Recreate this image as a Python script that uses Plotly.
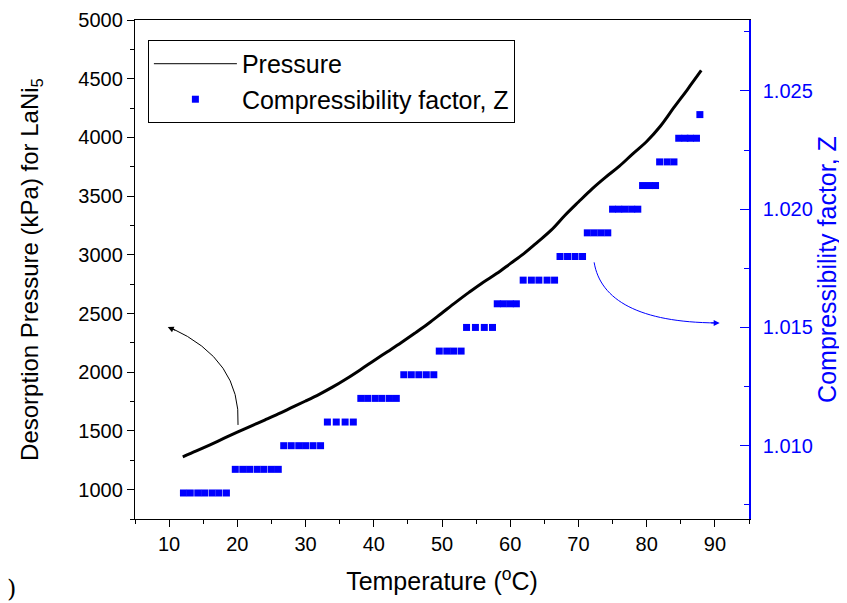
import plotly.graph_objects as go

# ---- data ----
p_temp = [12, 14, 16, 18, 20, 22, 24, 26, 28, 30, 32, 34, 36, 38, 40, 42, 44, 46, 48, 50,
          52, 54, 56, 58, 60, 62, 64, 66, 68, 70, 72, 74, 76, 78, 80, 82, 84, 86, 88]
pressure = [1280, 1330, 1382, 1436, 1490, 1542, 1593, 1645, 1700, 1755, 1812, 1875, 1945, 2020,
            2098, 2175, 2252, 2332, 2415, 2505, 2595, 2682, 2765, 2840, 2925, 3010, 3108, 3210,
            3335, 3450, 3562, 3662, 3755, 3862, 3965, 4095, 4255, 4410, 4570]

z_temp = [12.1, 13.1, 14.2, 15.2, 16.3, 17.3, 18.4,
          19.7, 20.8, 21.8, 22.9, 23.9, 25.0, 26.0,
          26.8, 27.9, 29.0, 30.0, 31.1, 32.2,
          33.2, 34.5, 35.8, 37.0,
          38.1, 39.1, 40.2, 41.2, 42.3, 43.3,
          44.4, 45.5, 46.6, 47.7, 48.8,
          49.6, 50.7, 51.7, 52.8,
          53.6, 54.9, 56.2, 57.4,
          58.1, 59.0, 60.0, 60.9,
          61.9, 63.1, 64.2, 65.4, 66.5,
          67.3, 68.4, 69.5, 70.6,
          71.3, 72.3, 73.3, 74.3,
          75.0, 75.9, 76.8, 77.8, 78.7,
          79.4, 80.4, 81.3,
          81.9, 83.0, 84.0,
          84.7, 85.6, 86.4, 87.3,
          87.8]
z_level = [1.008] * 7 + [1.009] * 7 + [1.010] * 6 + [1.011] * 4 + [1.012] * 6 + [1.013] * 5 + \
          [1.014] * 4 + [1.015] * 4 + [1.016] * 4 + [1.017] * 5 + [1.018] * 4 + [1.019] * 4 + \
          [1.020] * 5 + [1.021] * 3 + [1.022] * 3 + [1.023] * 4 + [1.024] * 1

x_ticks = [10, 20, 30, 40, 50, 60, 70, 80, 90]
y_ticks = [1000, 1500, 2000, 2500, 3000, 3500, 4000, 4500, 5000]
z_ticks = [1.010, 1.015, 1.020, 1.025]

FONT = "Liberation Sans, Arial, sans-serif"
BLUE = "#0000ff"

fig = go.Figure()
fig.add_trace(go.Scatter(x=p_temp, y=pressure, mode="lines", name="Pressure", showlegend=False,
                         line=dict(color="black", width=3, shape="spline"), yaxis="y"))
fig.add_trace(go.Scatter(x=[None], y=[None], mode="lines", name="Pressure",
                         line=dict(color="black", width=1), yaxis="y"))
fig.add_trace(go.Scatter(x=z_temp, y=z_level, mode="markers", name="Compressibility factor, Z",
                         marker=dict(color=BLUE, symbol="square", size=7, line=dict(width=0)),
                         yaxis="y2"))

# curved arrows (decorations)
fig.add_shape(type="path", xref="x", yref="y",
              path="M 20.1,1551 Q 20.6,2104 10.3,2377",
              line=dict(color="black", width=1))
fig.add_annotation(x=9.8, y=2385, xref="x", yref="y", ax=9, ay=4, text="",
                   showarrow=True, arrowhead=2, arrowsize=1.2, arrowwidth=1, arrowcolor="black")
fig.add_shape(type="path", xref="x", yref="y",
              path="M 72.3,2936 C 73.2,2612 79.0,2425 90.2,2420",
              line=dict(color=BLUE, width=1))
fig.add_annotation(x=90.7, y=2420, xref="x", yref="y", ax=-10, ay=0, text="",
                   showarrow=True, arrowhead=2, arrowsize=1.2, arrowwidth=1, arrowcolor=BLUE)

fig.add_annotation(x=-0.212, y=-0.14, xref="paper", yref="paper", text=")",
                   showarrow=False, xanchor="left", yanchor="middle",
                   font=dict(family="DejaVu Serif, serif", size=24, color="black"))

# the page body has an 8px default margin: figure is sized/margined to compensate
fig.update_layout(
    width=839, height=595,
    margin=dict(l=127, r=98, t=12, b=84, autoexpand=False),
    paper_bgcolor="white", plot_bgcolor="white",
    font=dict(family=FONT, color="black", size=20),
    showlegend=True,
    legend=dict(x=0.021, y=0.96, xanchor="left", yanchor="top",
                bordercolor="black", borderwidth=1, bgcolor="white",
                font=dict(family=FONT, size=25, color="black"),
                tracegroupgap=0, itemwidth=83),
    xaxis=dict(range=[5, 95], tickvals=x_ticks, ticks="outside", ticklen=7, tickwidth=1.3,
               tickcolor="black", showline=True, linecolor="black", linewidth=1.3, mirror=True,
               showgrid=False, zeroline=False, automargin=False,
               minor=dict(tickvals=[5, 15, 25, 35, 45, 55, 65, 75, 85, 95], ticklen=4,
                          tickwidth=1.3, tickcolor="black", ticks="outside"),
               tickfont=dict(size=20),
               title=dict(text="Temperature (<sup>o</sup>C)", font=dict(size=25), standoff=18)),
    yaxis=dict(range=[750, 5000], tickvals=y_ticks, ticks="outside", ticklen=7, tickwidth=1.3,
               tickcolor="black", showline=True, linecolor="black", linewidth=1.3,
               showgrid=False, zeroline=False, automargin=False,
               minor=dict(tickvals=[750, 1250, 1750, 2250, 2750, 3250, 3750, 4250, 4750],
                          ticklen=4, tickwidth=1.3, tickcolor="black", ticks="outside"),
               tickfont=dict(size=20),
               title=dict(text="Desorption Pressure (kPa) for LaNi<sub>5</sub>",
                          font=dict(size=24), standoff=32)),
    yaxis2=dict(range=[1.0069, 1.028], overlaying="y", side="right", tickvals=z_ticks,
                tickformat=".3f", ticks="inside", ticklen=9, tickwidth=1.3, tickcolor=BLUE,
                showline=True, linecolor=BLUE, linewidth=1.5, showgrid=False, zeroline=False,
                automargin=False, ticklabelstandoff=8,
                minor=dict(tickvals=[1.0075, 1.0125, 1.0175, 1.0225, 1.0275], ticklen=5,
                           tickwidth=1.3, tickcolor=BLUE, ticks="inside"),
                tickfont=dict(size=20, color=BLUE),
                title=dict(text="Compressibility factor, Z", font=dict(size=25, color=BLUE),
                           standoff=7)),
)

fig.write_html("out.html")
